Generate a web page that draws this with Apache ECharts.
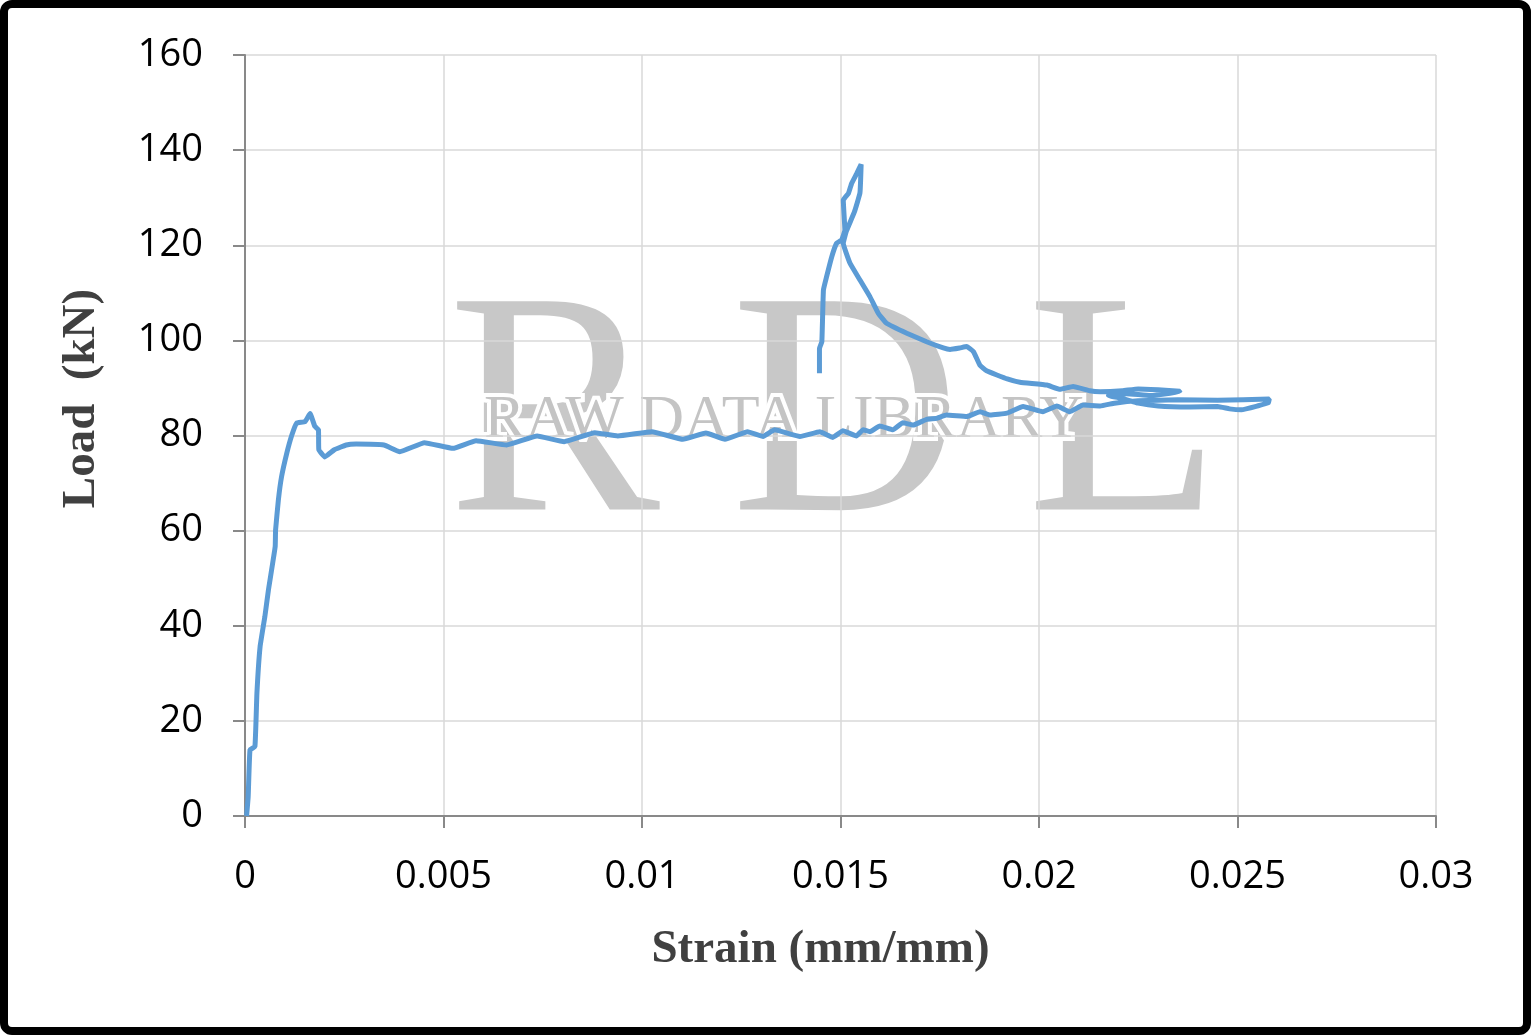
<!DOCTYPE html>
<html>
<head>
<meta charset="utf-8">
<title>Load vs Strain</title>
<script src="https://cdn.jsdelivr.net/npm/echarts@6/dist/echarts.min.js"></script>
<style>
  html, body { margin: 0; padding: 0; background: #fff; }
  #chart { width: 1531px; height: 1035px; }
</style>
</head>
<body>
<div id="chart"></div>
<script>
// [strain (mm/mm), load (kN)], in the order the curve is drawn
var risePts = [
  [0.00004, 0], [0.00008, 4], [0.000126, 13.9], [0.00025, 14.6], [0.0003, 25.8],
  [0.00038, 35.6], [0.0005, 41.9], [0.00059, 47.5], [0.00076, 56.6], [0.00077, 60.1],
  [0.00084, 66.4], [0.00092, 71.3], [0.00105, 76.2], [0.00118, 80.1], [0.0013, 82.6],
  [0.00151, 82.9], [0.00164, 84.6], [0.00176, 81.9], [0.00185, 81.2], [0.00186, 77],
  [0.00201, 75.5], [0.00225, 77], [0.00255, 78]
];
var plateauPts = [
  [0.0028, 78.2], [0.0035, 78], [0.0039, 76.6], [0.00452, 78.5], [0.00524, 77.3],
  [0.00582, 78.9], [0.00659, 78], [0.00736, 79.9], [0.00804, 78.7], [0.00881, 80.6],
  [0.00939, 79.9], [0.01025, 80.8], [0.01103, 79.2], [0.01161, 80.5], [0.01209, 79.2],
  [0.01266, 80.8], [0.01305, 79.8], [0.01334, 81.2], [0.01398, 79.8], [0.01448, 80.8],
  [0.01481, 79.6], [0.01506, 81], [0.0154, 79.9], [0.01557, 81.2], [0.01574, 80.8],
  [0.01599, 82], [0.01632, 81.2], [0.01657, 82.7], [0.01683, 82.2], [0.01717, 83.4],
  [0.01742, 83.6], [0.01767, 84.3], [0.01818, 84], [0.01851, 85], [0.01877, 84.3],
  [0.01919, 84.7], [0.0196, 86.1], [0.0201, 85], [0.02045, 86.2], [0.02078, 85],
  [0.02111, 86.4], [0.02154, 86.2], [0.0219, 86.8], [0.0225, 87.3], [0.0235, 87.5],
  [0.0245, 87.4], [0.0258, 87.7]
];
var returnPts = [
  [0.02578, 86.9], [0.0255, 86.2], [0.0251, 85.4], [0.0248, 85.6], [0.0245, 86.1],
  [0.0238, 86.0], [0.023, 86.2], [0.0225, 86.8], [0.0221, 87.8], [0.02175, 88.4],
  [0.0222, 88.8], [0.0228, 88.4], [0.0233, 88.9], [0.02355, 89.3]
];
var tailPts = [
  [0.02355, 89.4], [0.023, 89.6], [0.0225, 89.8], [0.0221, 89.4], [0.02154, 89.2],
  [0.02128, 89.4], [0.02086, 90.3], [0.02053, 89.7], [0.0202, 90.6], [0.01952, 91.2],
  [0.0192, 91.9], [0.01868, 93.6], [0.01851, 94.8], [0.01835, 97.6], [0.01818, 98.7],
  [0.018, 98.4], [0.01776, 98.1], [0.01759, 98.4], [0.01717, 99.7], [0.01667, 101.5],
  [0.01616, 103.6], [0.01595, 105.7], [0.01574, 109.2], [0.01549, 112.7], [0.01524, 116.2],
  [0.01507, 120.4]
];
var peakPts = [
  [0.01515, 123], [0.01535, 127], [0.01549, 131], [0.01552, 137], [0.01541, 135.1],
  [0.01528, 133], [0.0152, 130.9], [0.01507, 129.5], [0.01511, 123.2], [0.01503, 121.1],
  [0.0149, 120.4], [0.01478, 117.6], [0.01465, 113.4], [0.01457, 110.6], [0.01453, 99.7],
  [0.01447, 98.3], [0.01447, 93.1]
];

var xTicks = { min: 0, max: 0.03, interval: 0.005 };
var yTicks = { min: 0, max: 160, interval: 20 };

var chart = echarts.init(document.getElementById('chart'));
var curve = risePts.concat(plateauPts, returnPts, tailPts, peakPts);

var labelFont = '"Open Sans", "Liberation Sans", sans-serif';
var titleFont = '"Liberation Serif", "DejaVu Serif", serif';
var markColor = '#c8c8c8';

chart.setOption({
  animation: false,
  backgroundColor: '#ffffff',
  grid: { left: 245, top: 55, right: 95, bottom: 219, containLabel: false },
  xAxis: {
    type: 'value',
    min: xTicks.min,
    max: xTicks.max,
    interval: xTicks.interval,
    name: 'Strain (mm/mm)',
    nameLocation: 'middle',
    nameGap: 110,
    nameTextStyle: {
      fontFamily: titleFont, fontWeight: 'bold', fontSize: 47, color: '#404040',
      padding: [0, 40, 0, 0]
    },
    axisLine: { show: true, lineStyle: { color: '#898989', width: 2 } },
    axisTick: { show: true, inside: false, length: 12, lineStyle: { color: '#898989', width: 2 } },
    axisLabel: {
      margin: 42,
      fontFamily: labelFont,
      fontSize: 38,
      color: '#000',
      formatter: function (v) { return String(+v.toFixed(3)); }
    },
    splitLine: { show: true, lineStyle: { color: '#d9d9d9', width: 1.5 } }
  },
  yAxis: {
    type: 'value',
    min: yTicks.min,
    max: yTicks.max,
    interval: yTicks.interval,
    name: 'Load  (kN)',
    nameLocation: 'middle',
    nameGap: 140,
    nameRotate: 90,
    nameTextStyle: {
      fontFamily: titleFont, fontWeight: 'bold', fontSize: 47, color: '#404040',
      padding: [0, 0, 0, 74]
    },
    axisLine: { show: true, lineStyle: { color: '#898989', width: 2 } },
    axisTick: { show: true, inside: false, length: 12, lineStyle: { color: '#898989', width: 2 } },
    axisLabel: { margin: 42, fontFamily: labelFont, fontSize: 38, color: '#000' },
    splitLine: { show: true, lineStyle: { color: '#d9d9d9', width: 1.5 } }
  },
  graphic: [
    {
      type: 'text', left: 448, top: 267, z: -1, silent: true,
      style: { text: 'R', font: '318px ' + titleFont, fill: markColor }
    },
    {
      type: 'text', left: 731, top: 267, z: -1, silent: true,
      style: { text: 'D', font: '318px ' + titleFont, fill: markColor }
    },
    {
      type: 'text', left: 1027, top: 267, z: -1, silent: true,
      style: { text: 'L', font: '318px ' + titleFont, fill: markColor }
    },
    {
      type: 'text', left: 480, top: 386, z: -1, silent: true,
      style: {
        text: 'RAW DATA LIBRARY', font: '62px ' + titleFont, fill: '#c4c4c4',
        stroke: '#ffffff', lineWidth: 8
      }
    },
    {
      type: 'rect', z: 100, silent: true,
      shape: { x: 4, y: 4, width: 1523, height: 1027, r: 8 },
      style: { fill: 'none', stroke: '#000', lineWidth: 8 }
    }
  ],
  series: [
    {
      name: 'Load',
      type: 'line',
      data: curve,
      showSymbol: false,
      smooth: 0.1,
      z: 5,
      lineStyle: { color: '#5b9bd5', width: 5 },
      itemStyle: { color: '#5b9bd5' }
    }
  ]
});
</script>
</body>
</html>
